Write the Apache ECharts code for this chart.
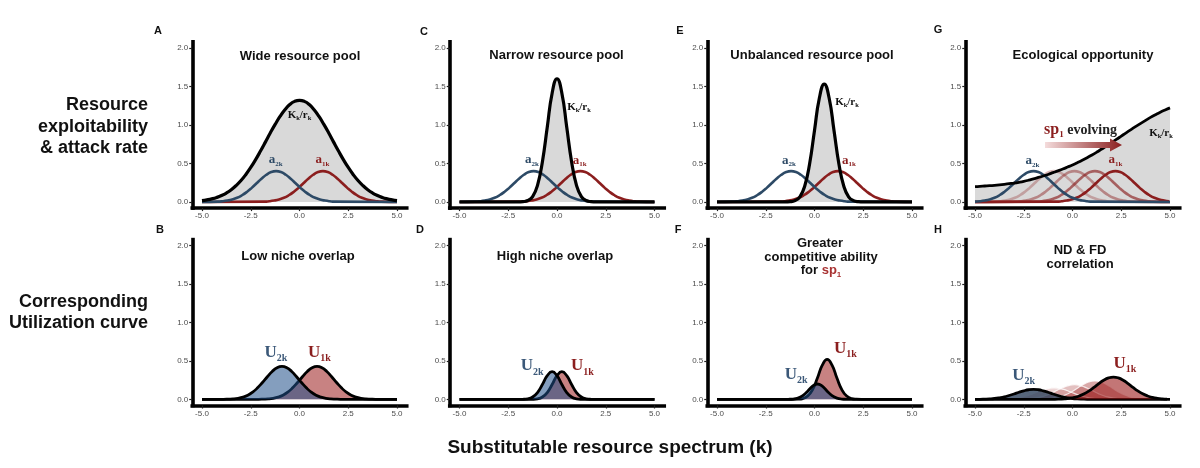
<!DOCTYPE html>
<html>
<head>
<meta charset="utf-8">
<script src="https://cdn.jsdelivr.net/npm/echarts@6/dist/echarts.min.js"></script>
<style>
html, body { margin: 0; padding: 0; background: #fff; }
#main { width: 1200px; height: 468px; }
</style>
</head>
<body>
<div id="main"></div>
<script>
// resource axis, sampled every 0.25
var X_GRID = [-5, -4.75, -4.5, -4.25, -4, -3.75, -3.5, -3.25, -3, -2.75, -2.5, -2.25, -2, -1.75, -1.5, -1.25, -1, -0.75, -0.5, -0.25,
    0, 0.25, 0.5, 0.75, 1, 1.25, 1.5, 1.75, 2, 2.25, 2.5, 2.75, 3, 3.25, 3.5, 3.75, 4, 4.25, 4.5, 4.75, 5];

// K_k / r_k for the four resource pools (read on X_GRID)
var K_WIDE = [0.017, 0.027, 0.040, 0.058, 0.083, 0.116, 0.159, 0.213, 0.278, 0.357, 0.448, 0.550, 0.661, 0.777, 0.895, 1.007, 1.110, 1.197, 1.265, 1.306,
    1.320, 1.306, 1.265, 1.197, 1.110, 1.007, 0.895, 0.777, 0.661, 0.550, 0.448, 0.357, 0.278, 0.213, 0.159, 0.116, 0.083, 0.058, 0.040, 0.027, 0.017];
var K_NARROW = [0, 0, 0, 0, 0, 0, 0, 0, 0, 0, 0, 0, 0, 0.004, 0.018, 0.070, 0.216, 0.520, 0.970, 1.412,
    1.600, 1.412, 0.970, 0.520, 0.216, 0.070, 0.018, 0.004, 0, 0, 0, 0, 0, 0, 0, 0, 0, 0, 0, 0, 0];
var K_SHIFTED = [0, 0, 0, 0, 0, 0, 0, 0, 0, 0, 0, 0, 0, 0, 0, 0.003, 0.017, 0.067, 0.207, 0.497,
    0.928, 1.350, 1.530, 1.350, 0.928, 0.497, 0.207, 0.067, 0.017, 0.003, 0, 0, 0, 0, 0, 0, 0, 0, 0, 0, 0];
var K_RISING = [0.200, 0.203, 0.207, 0.211, 0.216, 0.222, 0.229, 0.237, 0.245, 0.255, 0.267, 0.282, 0.300, 0.318, 0.337, 0.357, 0.380, 0.403, 0.427, 0.453,
    0.480, 0.510, 0.541, 0.574, 0.610, 0.648, 0.688, 0.728, 0.770, 0.812, 0.855, 0.898, 0.940, 0.981, 1.021, 1.060, 1.098, 1.133, 1.166, 1.195, 1.222];

// bell curves, read at these distances from their centre
var OFFSETS = [-3, -2.75, -2.5, -2.25, -2, -1.75, -1.5, -1.25, -1, -0.75, -0.5, -0.25, 0, 0.25, 0.5, 0.75, 1, 1.25, 1.5, 1.75, 2, 2.25, 2.5, 2.75, 3];
var A_SHAPE = [0.004, 0.009, 0.018, 0.032, 0.054, 0.087, 0.130, 0.183, 0.243, 0.302, 0.353, 0.388, 0.400, 0.388, 0.353, 0.302, 0.243, 0.183, 0.130, 0.087, 0.054, 0.032, 0.018, 0.009, 0.004];
var U_LOW = [0.001, 0.003, 0.006, 0.014, 0.029, 0.054, 0.094, 0.150, 0.219, 0.294, 0.363, 0.412, 0.430, 0.412, 0.363, 0.294, 0.219, 0.150, 0.094, 0.054, 0.029, 0.014, 0.006, 0.003, 0.001];
var U_HIGH = [0, 0, 0, 0, 0, 0, 0.001, 0.007, 0.030, 0.088, 0.193, 0.308, 0.360, 0.308, 0.193, 0.088, 0.030, 0.007, 0.001, 0, 0, 0, 0, 0, 0];
var U1_GREATER = [0, 0, 0, 0, 0, 0, 0.002, 0.010, 0.043, 0.127, 0.278, 0.445, 0.520, 0.445, 0.278, 0.127, 0.043, 0.010, 0.002, 0, 0, 0, 0, 0, 0];
var U2_GREATER = [0, 0, 0, 0, 0, 0, 0.001, 0.004, 0.016, 0.049, 0.107, 0.171, 0.200, 0.171, 0.107, 0.049, 0.016, 0.004, 0.001, 0, 0, 0, 0, 0, 0];
var U1_CORR = [0.001, 0.003, 0.006, 0.013, 0.025, 0.044, 0.072, 0.110, 0.156, 0.205, 0.249, 0.279, 0.290, 0.279, 0.249, 0.205, 0.156, 0.110, 0.072, 0.044, 0.025, 0.013, 0.006, 0.003, 0.001];
var U2_CORR = [0.001, 0.001, 0.003, 0.006, 0.011, 0.020, 0.032, 0.050, 0.070, 0.092, 0.111, 0.125, 0.130, 0.125, 0.111, 0.092, 0.070, 0.050, 0.032, 0.020, 0.011, 0.006, 0.003, 0.001, 0.001];
var U1_TRAIL = [
    [0.001, 0.001, 0.003, 0.007, 0.013, 0.023, 0.037, 0.057, 0.081, 0.106, 0.129, 0.144, 0.150, 0.144, 0.129, 0.106, 0.081, 0.057, 0.037, 0.023, 0.013, 0.007, 0.003, 0.001, 0.001],
    [0.001, 0.002, 0.004, 0.008, 0.016, 0.029, 0.047, 0.072, 0.102, 0.134, 0.163, 0.183, 0.190, 0.183, 0.163, 0.134, 0.102, 0.072, 0.047, 0.029, 0.016, 0.008, 0.004, 0.002, 0.001],
    [0.001, 0.002, 0.005, 0.011, 0.020, 0.036, 0.060, 0.091, 0.129, 0.170, 0.206, 0.231, 0.240, 0.231, 0.206, 0.170, 0.129, 0.091, 0.060, 0.036, 0.020, 0.011, 0.005, 0.002, 0.001]
];

// centres
var A2_CENTERS = [-1.2, -1.2, -1.2, -2.0];   // panels A C E G
var A1_CENTERS = [1.2, 1.2, 1.2, 2.2];
var G_TRAIL_CENTERS = [-0.95, 0.1, 1.15];
var U_LOW_CENTERS = [-0.9, 0.9];
var U_HIGH_CENTERS = [-0.25, 0.25];
var U_GREATER_CENTERS = [0.15, 0.65];
var U_CORR_CENTERS = [-2.0, 2.1];
var H_TRAIL_CENTERS = [-0.95, 0.1, 1.15];

var X_TICKS = [-5, -2.5, 0, 2.5, 5];
var Y_TICKS = [0, 0.5, 1, 1.5, 2];

var BLUE = '#2d4a66';
var RED = '#8b1e1e';
var SANS = '"Liberation Sans", Arial, sans-serif';
var SERIF = '"Liberation Serif", "Times New Roman", serif';

// panel geometry
var COL_LEFT = [192.25, 449.75, 707.25, 965.25];
var GRID_W = 214.5;
var ROW_TOP = [41.8, 239.6];
var ROW_H = [166.3, 165.9];

function onGrid(values) {
    return X_GRID.map(function (x, i) { return [x, values[i]]; });
}

function around(center, values) {
    var pts = [];
    if (center + OFFSETS[0] > -5) pts.push([-5, 0]);
    for (var i = 0; i < OFFSETS.length; i++) {
        var x = Math.round((center + OFFSETS[i]) * 1000) / 1000;
        if (x >= -5 && x <= 5) pts.push([x, values[i]]);
    }
    if (center + OFFSETS[OFFSETS.length - 1] < 5) pts.push([5, 0]);
    return pts;
}

function curve(g, data, color, width, o) {
    o = o || {};
    var s = {
        type: 'line',
        xAxisIndex: g,
        yAxisIndex: g,
        data: data,
        symbol: 'none',
        smooth: true,
        silent: true,
        z: o.z || 2,
        lineStyle: { color: color, width: width, opacity: o.lineOpacity == null ? 1 : o.lineOpacity }
    };
    if (o.fill) s.areaStyle = { color: o.fill, opacity: o.fillOpacity == null ? 1 : o.fillOpacity };
    return s;
}

var grids = [], xAxes = [], yAxes = [];
for (var r = 0; r < 2; r++) {
    for (var c = 0; c < 4; c++) {
        var gi = r * 4 + c;
        grids.push({ left: COL_LEFT[c], top: ROW_TOP[r], width: GRID_W, height: ROW_H[r] });
        xAxes.push({
            gridIndex: gi, type: 'value', min: -5.5, max: 5.5,
            axisLine: { show: true, onZero: false, lineStyle: { color: '#000', width: 3.6, cap: 'square' } },
            axisTick: { show: true, customValues: X_TICKS, length: 3, lineStyle: { color: '#222', width: 1.2 } },
            axisLabel: { customValues: X_TICKS, formatter: function (v) { return v.toFixed(1); },
                fontSize: 8, color: '#4d4d4d', margin: 4, fontFamily: SANS },
            splitLine: { show: false }
        });
        yAxes.push({
            gridIndex: gi, type: 'value', min: -0.08, max: 2.08,
            axisLine: { show: true, onZero: false, lineStyle: { color: '#000', width: 3.6, cap: 'square' } },
            axisTick: { show: true, customValues: Y_TICKS, length: 3, lineStyle: { color: '#222', width: 1.2 } },
            axisLabel: { customValues: Y_TICKS, formatter: function (v) { return v.toFixed(1); },
                fontSize: 8, color: '#4d4d4d', margin: 4, fontFamily: SANS },
            splitLine: { show: false }
        });
    }
}

var series = [];

// top row: resource pool and attack rates
var K_LIST = [K_WIDE, K_NARROW, K_SHIFTED, K_RISING];
for (var p = 0; p < 4; p++) {
    series.push(curve(p, onGrid(K_LIST[p]), '#000', 0, { fill: '#d9d9d9', lineOpacity: 0, z: 1 }));
    if (p === 3) {
        var trailAlpha = [0.3, 0.45, 0.65];
        G_TRAIL_CENTERS.forEach(function (ct, i) {
            series.push(curve(3, around(ct, A_SHAPE), RED, 2.6, { lineOpacity: trailAlpha[i], z: 2 }));
        });
    }
    series.push(curve(p, around(A1_CENTERS[p], A_SHAPE), RED, 2.6, { z: 3 }));
    series.push(curve(p, around(A2_CENTERS[p], A_SHAPE), BLUE, 2.6, { z: 3 }));
    series.push(curve(p, onGrid(K_LIST[p]), '#000', p === 3 ? 2.8 : 3.2, { z: 4 }));
}

// bottom row: utilization curves
var U_FILL_RED = '#9b1b1b', U_FILL_BLUE = '#1f4e89';
function uPair(g, u2, u1, centers) {
    series.push(curve(g, around(centers[1], u1), '#000', 2.8, { fill: U_FILL_RED, fillOpacity: 0.55, z: 3 }));
    series.push(curve(g, around(centers[0], u2), '#000', 2.8, { fill: U_FILL_BLUE, fillOpacity: 0.55, z: 4 }));
}
uPair(4, U_LOW, U_LOW, U_LOW_CENTERS);
uPair(5, U_HIGH, U_HIGH, U_HIGH_CENTERS);
uPair(6, U2_GREATER, U1_GREATER, U_GREATER_CENTERS);

var hAlpha = [0.18, 0.28, 0.38];
H_TRAIL_CENTERS.forEach(function (ct, i) {
    series.push(curve(7, around(ct, U1_TRAIL[i]), '#fff', 1.2, { fill: U_FILL_RED, fillOpacity: hAlpha[i], lineOpacity: 0.8, z: 2 }));
});
series.push(curve(7, around(U_CORR_CENTERS[0], U2_CORR), '#000', 2.8, { fill: '#1f3450', fillOpacity: 0.75, z: 3 }));
series.push(curve(7, around(U_CORR_CENTERS[1], U1_CORR), '#000', 2.8, { fill: U_FILL_RED, fillOpacity: 0.6, z: 4 }));

// text helpers
var measureCtx = document.createElement('canvas').getContext('2d');
function richLabel(cx, cy, parts, family) {
    var widths = parts.map(function (q) {
        measureCtx.font = 'bold ' + q.s + 'px ' + family;
        return measureCtx.measureText(q.t).width;
    });
    var total = widths.reduce(function (a, b) { return a + b; }, 0);
    var x = cx - total / 2;
    return parts.map(function (q, i) {
        var el = {
            type: 'text', x: x, y: cy + (q.dy || 0), silent: true, z: 100,
            style: { text: q.t, fill: q.c, font: 'bold ' + q.s + 'px ' + family, align: 'left', verticalAlign: 'middle' }
        };
        x += widths[i];
        return el;
    });
}
function txt(x, y, s, size, align, color) {
    return {
        type: 'text', x: x, y: y, silent: true, z: 100,
        style: { text: s, fill: color || '#111', font: 'bold ' + size + 'px ' + SANS, align: align || 'center', verticalAlign: 'middle' }
    };
}
function uLabel(x, y, sub, color) {
    return richLabel(x, y, [{ t: 'U', s: 17, c: color }, { t: sub, s: 10, c: color, dy: 6 }], SERIF);
}
function aLabel(x, y, sub, color) {
    return richLabel(x, y - 2, [{ t: 'a', s: 13, c: color }, { t: sub, s: 7, c: color, dy: 4 }], SERIF);
}
function kLabel(x, y) {
    return richLabel(x, y, [{ t: 'K', s: 11, c: '#111' }, { t: 'k', s: 6.5, c: '#111', dy: 3.5 },
        { t: '/r', s: 11, c: '#111' }, { t: 'k', s: 6.5, c: '#111', dy: 3.5 }], SERIF);
}

var PANEL_LETTERS = [['A', 158, 31], ['C', 424, 32], ['E', 680, 31], ['G', 938, 30],
    ['B', 160, 230], ['D', 420, 230], ['F', 678, 230], ['H', 938, 230]];
var PANEL_TITLES = [['Wide resource pool', 300, 56.5], ['Narrow resource pool', 556.5, 55.5],
    ['Unbalanced resource pool', 812, 55.5], ['Ecological opportunity', 1083, 55.5],
    ['Low niche overlap', 298, 256], ['High niche overlap', 555, 256.5],
    ['Greater', 820, 243], ['competitive ability', 821, 257], ['ND & FD', 1080, 250.5], ['correlation', 1080, 264]];
var ROW_LABELS = [['Resource', 105], ['exploitability', 126.7], ['& attack rate', 148.3],
    ['Corresponding', 301.7], ['Utilization curve', 323.3]];

var graphics = [];
PANEL_LETTERS.forEach(function (l) { graphics.push(txt(l[1], l[2], l[0], 11)); });
PANEL_TITLES.forEach(function (l) { graphics.push(txt(l[1], l[2], l[0], 13)); });
ROW_LABELS.forEach(function (l) { graphics.push(txt(148, l[1], l[0], 18, 'right')); });
graphics.push(txt(610, 448, 'Substitutable resource spectrum (k)', 19));
graphics = graphics.concat(
    richLabel(821, 270.5, [{ t: 'for ', s: 13, c: '#111' }, { t: 'sp', s: 13, c: '#a83232' }, { t: '1', s: 8, c: '#a83232', dy: 4 }], SANS),
    kLabel(299.5, 115), kLabel(579, 106.7), kLabel(847, 101.7), kLabel(1161, 133.3),
    aLabel(275.8, 161.7, '2k', BLUE), aLabel(322.5, 161.7, '1k', RED),
    aLabel(532, 162, '2k', BLUE), aLabel(579.7, 162.5, '1k', RED),
    aLabel(789, 162.5, '2k', BLUE), aLabel(849, 162.5, '1k', RED),
    aLabel(1032.5, 162.7, '2k', BLUE), aLabel(1115.5, 161.7, '1k', RED),
    uLabel(275.8, 352.7, '2k', '#3b5878'), uLabel(319.3, 352.7, '1k', RED),
    uLabel(532.2, 366, '2k', '#3b5878'), uLabel(582.5, 366, '1k', RED),
    uLabel(796.2, 374.3, '2k', '#3b5878'), uLabel(845.5, 348.3, '1k', RED),
    uLabel(1023.7, 375.7, '2k', '#3b5878'), uLabel(1125, 363.3, '1k', RED),
    richLabel(1080.5, 130, [{ t: 'sp', s: 16, c: RED }, { t: '1', s: 9, c: RED, dy: 5 }, { t: ' evolving', s: 14, c: '#222' }], SERIF)
);
// "sp1 evolving" arrow
graphics.push({
    type: 'polygon', silent: true, z: 90,
    shape: { points: [[1045, 142], [1110, 142], [1110, 138.5], [1122, 145], [1110, 151.5], [1110, 148], [1045, 148]] },
    style: {
        fill: { type: 'linear', x: 0, y: 0, x2: 1, y2: 0, colorStops: [{ offset: 0, color: '#f4dcdc' }, { offset: 1, color: '#8b1e1e' }] }
    }
});

var chart = echarts.init(document.getElementById('main'));
chart.setOption({
    animation: false,
    backgroundColor: '#fff',
    grid: grids,
    xAxis: xAxes,
    yAxis: yAxes,
    series: series,
    graphic: { elements: graphics }
});
</script>
</body>
</html>
